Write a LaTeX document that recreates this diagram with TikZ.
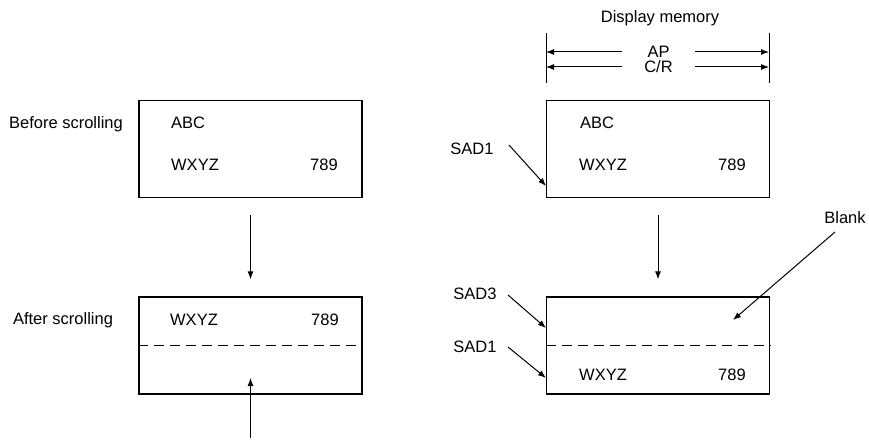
\documentclass[tikz,border=0pt]{standalone}
\usepackage{fontspec}
\setmainfont{Liberation Sans}
\usetikzlibrary{arrows.meta}
\begin{document}
\begin{tikzpicture}[x=1pt,y=-1pt,
  txt/.style={font=\fontsize{16.5}{19}\selectfont, inner sep=0pt, anchor=center},
  box/.style={draw, line width=1.3pt, minimum width=223pt, minimum height=97pt, inner sep=0pt},
  arr/.style={line width=1pt, -{Latex[length=8pt,width=6pt]}},
  thin/.style={line width=1pt},
  dsh/.style={line width=1.4pt, dash pattern=on 10pt off 6pt}]
\useasboundingbox (0,0) rectangle (869,443);
% left column
\node[box] (b1) at (250.5,149) {};
\node[box] (b2) at (250.5,345.5) {};
\node[txt] (bs) at (66,124) {Before scrolling};
\node[txt] (as) at (63,320) {After scrolling};
\node[txt] (abc1) at (188,123) {ABC};
\node[txt] (w1) at (195,165) {WXYZ};
\node[txt] (n1) at (324,165) {789};
\node[txt] (w2) at (194,320) {WXYZ};
\node[txt] (n2) at (325,320) {789};
\draw[dsh] (b2.west) -- (b2.east);
\draw[arr, shorten <=17pt, shorten >=17pt] (b1.south) -- (b2.north);
\coordinate (upbase) at (250.5,438);
\coordinate (uptip) at (250.5,378);
\draw[arr] (upbase) -- (uptip);
% right column
\node[box] (r1) at (658,149) {};
\node[box] (r2) at (658,345.5) {};
\node[txt] (dm) at (660,18) {Display memory};
\coordinate (vl1) at (546,33);
\coordinate (vl2) at (546,83);
\coordinate (vr1) at (769,33);
\coordinate (vr2) at (769,83);
\draw[thin] (vl1) -- (vl2);
\draw[thin] (vr1) -- (vr2);
\node[txt, minimum width=73pt] (ap) at (658.5,52) {AP};
\node[txt, minimum width=73pt] (cr) at (658.5,67) {C/R};
\coordinate (apl) at (546,52);
\coordinate (apr) at (769,52);
\coordinate (crl) at (546,67);
\coordinate (crr) at (769,67);
\draw[arr] (ap.west) -- (apl);
\draw[arr] (ap.east) -- (apr);
\draw[arr] (cr.west) -- (crl);
\draw[arr] (cr.east) -- (crr);
\node[txt] (abc3) at (597,123) {ABC};
\node[txt] (w3) at (603,165) {WXYZ};
\node[txt] (n3) at (732,165) {789};
\node[txt] (s1a) at (472,149) {SAD1};
\coordinate (s1at) at (546,186);
\draw[arr] (509,145) -- (s1at);
\draw[arr, shorten <=17pt, shorten >=17pt] (r1.south) -- (r2.north);
\draw[dsh] (r2.west) -- (r2.east);
\node[txt] (w4) at (603,375) {WXYZ};
\node[txt] (n4) at (732,375) {789};
\node[txt] (s3) at (475,294) {SAD3};
\node[txt] (s1b) at (475,347) {SAD1};
\coordinate (s3t) at (546,328);
\coordinate (s1bt) at (546,378);
\coordinate (s3f) at (508,295);
\coordinate (s1bf) at (508,347);
\draw[arr] (s3f) -- (s3t);
\draw[arr] (s1bf) -- (s1bt);
\node[txt] (bl) at (845,218) {Blank};
\coordinate (blf) at (835,232);
\coordinate (blt) at (733,320);
\draw[arr] (blf) -- (blt);
\end{tikzpicture}
\end{document}
